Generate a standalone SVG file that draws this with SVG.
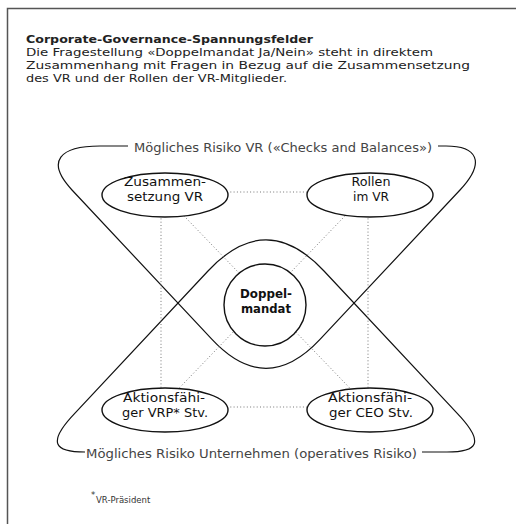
<svg xmlns="http://www.w3.org/2000/svg" width="516" height="524" viewBox="0 0 516 524">
  <style>
    .frame { fill: none; stroke: #555; stroke-width: 1.5; }
    .t { font-family: "DejaVu Sans", "Liberation Sans", sans-serif; fill: #222; }
    .title { font-size: 11px; font-weight: bold; }
    .body { font-size: 11px; }
    .lbl { font-size: 12px; fill: #444; }
    .node { font-size: 13px; text-anchor: middle; fill: #111; }
    .nodeb { font-size: 12.5px; font-weight: bold; text-anchor: middle; fill: #111; }
    .foot { font-size: 8.5px; fill: #333; }
    .shape { fill: none; stroke: #111; stroke-width: 1.2; }
    .dot { fill: none; stroke: #777; stroke-width: 1; stroke-dasharray: 1 2.3; }
    .ell { fill: #fff; stroke: #111; stroke-width: 1.4; }
  </style>

  <!-- page frame (top and left rule) -->
  <path class="frame" d="M516 8.5 H7.5 V524"/>

  <!-- heading -->
  <g id="heading">
    <text class="t title" x="26" y="43" textLength="287" lengthAdjust="spacingAndGlyphs">Corporate-Governance-Spannungsfelder</text>
    <text class="t body" x="26" y="56" textLength="407" lengthAdjust="spacingAndGlyphs">Die Fragestellung «Doppelmandat Ja/Nein» steht in direktem</text>
    <text class="t body" x="26" y="69" textLength="444" lengthAdjust="spacingAndGlyphs">Zusammenhang mit Fragen in Bezug auf die Zusammensetzung</text>
    <text class="t body" x="26" y="82" textLength="261" lengthAdjust="spacingAndGlyphs">des VR und der Rollen der VR-Mitglieder.</text>
  </g>

  <!-- risk fields -->
  <g id="risk-vr">
    <path class="shape" d="M128 146 H100 C60 146 45 161 72 190 L212 339.4 Q266 397.2 320 339.4 L460 190 C487 161 476 146 446 146 H438"/>
    <text class="t lbl" x="134" y="152" textLength="298" lengthAdjust="spacingAndGlyphs">Mögliches Risiko VR («Checks and Balances»)</text>
  </g>
  <g id="risk-unternehmen">
    <path class="shape" d="M85 452 C55 452 46 443.5 75 413.2 L208 271 Q266 208.8 324 271 L457 413.2 C486 443.5 477 452 447 452 H422"/>
    <text class="t lbl" x="86" y="458" textLength="331" lengthAdjust="spacingAndGlyphs">Mögliches Risiko Unternehmen (operatives Risiko)</text>
  </g>

  <!-- connectors -->
  <g id="connectors">
    <line class="dot" x1="161" y1="192" x2="368" y2="192"/>
    <line class="dot" x1="161" y1="407" x2="368" y2="407"/>
    <line class="dot" x1="161" y1="192" x2="161" y2="407"/>
    <line class="dot" x1="368" y1="192" x2="368" y2="407"/>
    <line class="dot" x1="161" y1="192" x2="368" y2="407"/>
    <line class="dot" x1="368" y1="192" x2="161" y2="407"/>
  </g>

  <!-- nodes -->
  <g id="zusammensetzung">
    <ellipse class="ell" cx="165" cy="195" rx="63" ry="22"/>
    <text class="t node" x="165" y="186" textLength="82" lengthAdjust="spacingAndGlyphs">Zusammen-</text>
    <text class="t node" x="165" y="201" textLength="76" lengthAdjust="spacingAndGlyphs">setzung VR</text>
  </g>
  <g id="rollen">
    <ellipse class="ell" cx="370" cy="195" rx="63" ry="22"/>
    <text class="t node" x="371" y="186" textLength="39" lengthAdjust="spacingAndGlyphs">Rollen</text>
    <text class="t node" x="371" y="201" textLength="36" lengthAdjust="spacingAndGlyphs">im VR</text>
  </g>
  <g id="doppelmandat">
    <circle class="ell" cx="265" cy="305" r="41"/>
    <text class="t nodeb" x="266" y="298" textLength="52" lengthAdjust="spacingAndGlyphs">Doppel-</text>
    <text class="t nodeb" x="266" y="313" textLength="50" lengthAdjust="spacingAndGlyphs">mandat</text>
  </g>
  <g id="vrp-stv">
    <ellipse class="ell" cx="165" cy="410" rx="63" ry="22"/>
    <text class="t node" x="164" y="402" textLength="82" lengthAdjust="spacingAndGlyphs">Aktionsfähi-</text>
    <text class="t node" x="165" y="417" textLength="86" lengthAdjust="spacingAndGlyphs">ger VRP* Stv.</text>
  </g>
  <g id="ceo-stv">
    <ellipse class="ell" cx="370" cy="410" rx="63" ry="22"/>
    <text class="t node" x="370" y="402" textLength="84" lengthAdjust="spacingAndGlyphs">Aktionsfähi-</text>
    <text class="t node" x="371" y="417" textLength="84" lengthAdjust="spacingAndGlyphs">ger CEO Stv.</text>
  </g>

  <!-- footnote -->
  <g id="footnote">
    <text class="t foot" x="91" y="498" font-size="7px">*</text>
    <text class="t foot" x="96" y="503">VR-Präsident</text>
  </g>
</svg>
